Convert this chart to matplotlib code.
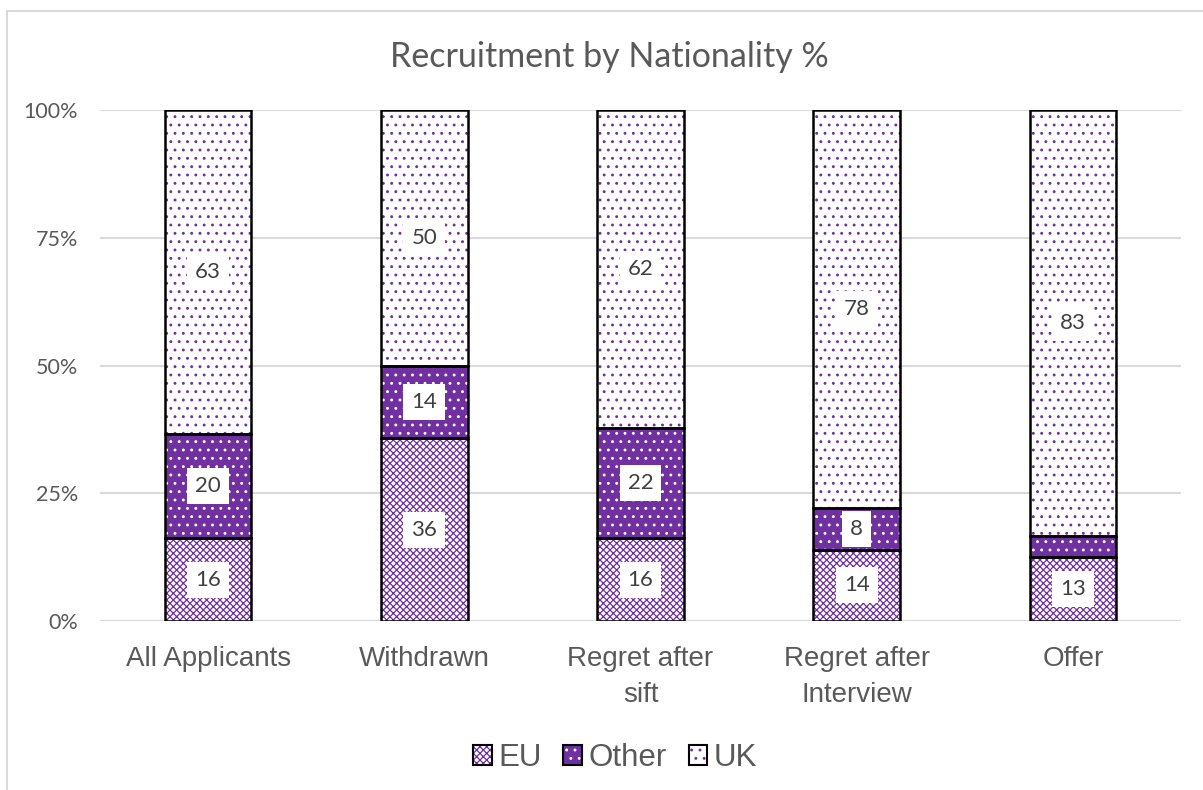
import numpy as np
import matplotlib
matplotlib.use("Agg")
import matplotlib.pyplot as plt
from matplotlib.patches import Patch, Rectangle
from matplotlib.legend_handler import HandlerTuple

# data (percent of each stage)
stages = ["All Applicants", "Withdrawn", "Regret after\nsift", "Regret after\nInterview", "Offer"]
eu = [16.2, 35.8, 16.2, 13.9, 12.6]
other = [20.4, 14.1, 21.6, 8.2, 4.1]
uk = [63.4, 50.1, 62.2, 77.9, 83.3]
series_names = ["EU", "Other", "UK"]

purple = "#7030A0"
grey_txt = "#595959"
grid_c = "#D9D9D9"
plt.rcParams['hatch.linewidth'] = 0.9

fig = plt.figure(figsize=(12.03, 7.9), dpi=100)
# chart frame (cropped at right/bottom in the original)
fig.patches.append(Rectangle((7/1203, -0.05), 1.2, (790-11)/790 + 0.05, transform=fig.transFigure,
                             fill=False, edgecolor=grid_c, linewidth=1.5))
ax = fig.add_axes([100/1203, (790-621)/790, (1181-100)/1203, 511/790])

x = np.arange(len(stages))
width = 0.40

# fractions for 100% stacking
tot = np.array(eu) + np.array(other) + np.array(uk)
data = [np.array(eu)/tot, np.array(other)/tot, np.array(uk)/tot]
raw = [eu, other, uk]
styles = [
    dict(face="white", hatch="xxxxx", hcol=purple),
    dict(face=purple, hatch="..", hcol="white"),
    dict(face="white", hatch="..", hcol=purple),
]

bottom = np.zeros(len(stages))
for vals, rv, st in zip(data, raw, styles):
    ax.bar(x, vals, width, bottom=bottom, color=st["face"], edgecolor=st["hcol"],
           hatch=st["hatch"], linewidth=0, zorder=2)
    ax.bar(x, vals, width, bottom=bottom, fill=False, edgecolor="black", linewidth=1.8, zorder=3)
    for xi, b, v, r in zip(x, bottom, vals, rv):
        if r >= 5:
            ax.text(xi, b + v/2, "%.0f" % r, ha="center", va="center", fontsize=16,
                    family="Lato", color="#404040", zorder=4,
                    bbox=dict(boxstyle="square,pad=0.36", facecolor="white", edgecolor="none"))
    bottom = bottom + vals

ax.set_xlim(-0.5, len(stages) - 0.5)
ax.set_ylim(0, 1)
ax.set_yticks([0, 0.25, 0.5, 0.75, 1.0])
ax.set_yticklabels(["0%", "25%", "50%", "75%", "100%"], fontsize=15.5, family="Lato", color=grey_txt)
ax.set_xticks(x)
ax.set_xticklabels(stages, fontsize=20, color=grey_txt, family="Liberation Sans", linespacing=1.5)
ax.tick_params(length=0)
ax.tick_params(axis="y", pad=16)
ax.tick_params(axis="x", pad=18)
for s in ax.spines.values():
    s.set_visible(False)
ax.grid(axis="y", color=grid_c, linewidth=1.5, zorder=0)
ax.set_axisbelow(True)

fig.text(609/1203, 1 - 57/790, "Recruitment by Nationality %", ha="center", va="center",
         fontsize=24.5, family="Lato", color=grey_txt)

handles = []
for st in styles:
    h1 = Patch(facecolor=st["face"], edgecolor=st["hcol"], hatch=st["hatch"], linewidth=0)
    h2 = Patch(fill=False, edgecolor="black", linewidth=1.5)
    handles.append((h1, h2))
leg = fig.legend(handles, series_names, loc="center", bbox_to_anchor=(615/1203, 1 - 758/790),
                 ncol=3, frameon=False, handler_map={tuple: HandlerTuple(ndivide=1)},
                 prop={"family": "Liberation Sans", "size": 22.5}, handlelength=0.6, handleheight=0.6,
                 handletextpad=0.2, columnspacing=0.7)
for t in leg.get_texts():
    t.set_color(grey_txt)

fig.savefig("out.png", dpi=100)
